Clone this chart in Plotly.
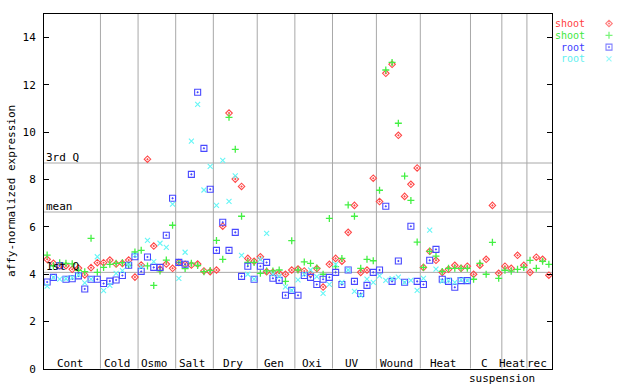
import numpy as np
import plotly.graph_objects as go

W, H = 640, 384

groups = ["Cont", "Cold", "Osmo", "Salt", "Dry", "Gen", "Oxi", "UV", "Wound",
          "Heat", "C", "Heat", "rec"]
group_sublabels = ["", "", "", "", "", "", "", "", "", "", "suspension", "", ""]

shoot_red = [
    [4.62, 4.45, 4.35, 4.35, 4.20, 4.25, 3.96, 4.27, 4.48],
    [4.48, 4.59, 4.42, 4.45, 4.59, 3.87],
    [4.38, 8.85, 5.18, 4.21, 4.42, 4.24],
    [4.49, 4.41, 4.38, 4.42, 4.13, 4.10],
    [4.17, 6.02, 10.80, 8.01, 7.70, 4.66, 4.54],
    [4.73, 4.10, 4.07, 4.03, 3.99, 4.17],
    [4.21, 4.13, 4.00, 4.23, 3.45, 4.41],
    [4.66, 4.54, 5.76, 6.90, 4.07, 4.17, 8.05],
    [7.06, 12.48, 12.86, 9.86, 7.28, 7.79, 8.48],
    [4.28, 4.96, 4.58, 4.07, 4.20, 4.37, 4.24, 4.33],
    [3.99, 4.37, 4.62, 6.90, 4.03],
    [4.33, 4.24, 4.79, 4.37],
    [4.07, 4.71, 4.62, 3.95],
]
shoot_green = [
    [4.80, 4.35, 4.48, 4.45, 4.43, 4.15, 4.10, 5.51, 4.07],
    [4.28, 4.41, 4.45, 4.48, 4.37, 4.93],
    [5.00, 4.34, 3.52, 4.13, 4.59, 6.06],
    [4.49, 4.23, 4.46, 4.36, 4.10, 4.15],
    [5.42, 4.62, 10.62, 9.27, 6.44, 4.49, 4.49],
    [4.03, 4.13, 4.13, 4.17, 3.69, 5.41],
    [4.17, 4.51, 4.45, 4.25, 3.99, 6.35],
    [4.31, 4.66, 6.92, 6.44, 4.24, 4.62, 4.56],
    [7.54, 12.62, 12.94, 10.37, 8.14, 7.11, 5.35],
    [4.28, 4.96, 4.76, 4.11, 4.24, 4.24, 4.24, 4.24],
    [3.78, 4.45, 3.99, 5.34, 3.82],
    [4.16, 4.12, 4.20, 4.28],
    [4.58, 4.24, 4.54, 4.41],
]
root_blue = [
    [3.66, 3.86, 4.35, 3.78, 3.80, 3.92, 3.37, 3.78, 3.78],
    [3.60, 3.70, 3.75, 3.94, 4.37, 4.73],
    [4.11, 4.72, 4.28, 4.28, 5.64, 7.20],
    [4.49, 4.41, 8.21, 11.68, 9.31, 7.58],
    [5.00, 6.19, 5.00, 5.76, 3.90, 4.33, 3.78],
    [4.33, 4.49, 3.82, 3.73, 3.10, 3.31],
    [3.10, 3.94, 3.86, 3.56, 3.78, 3.86],
    [4.07, 3.56, 4.17, 3.69, 3.18, 3.52, 4.07],
    [4.17, 6.86, 3.69, 4.55, 3.65, 6.02, 3.69],
    [3.56, 4.58, 5.04, 3.78, 3.69, 3.44, 3.72, 3.72],
    [], [], [],
]
root_cyan = [
    [3.49, 3.86, 3.78, 3.80, 3.85, 3.95, 3.63, 3.78, 4.73],
    [3.30, 3.52, 4.03, 4.14, 4.40, 4.80],
    [4.30, 5.42, 4.52, 5.30, 5.13, 6.95],
    [3.82, 4.92, 9.61, 11.17, 7.55, 8.55],
    [6.90, 8.80, 7.07, 8.15, 4.79, 3.99, 3.78],
    [4.62, 5.72, 4.00, 3.90, 3.46, 3.31],
    [3.75, 4.00, 4.17, 3.89, 3.18, 3.56],
    [4.41, 3.65, 4.17, 3.27, 3.10, 3.78, 3.65],
    [3.92, 3.73, 3.80, 3.87, 3.65, 3.73, 3.31],
    [3.82, 5.85, 4.21, 3.70, 3.72, 3.65, 3.75, 3.72],
    [], [], [],
]

ref_values = [8.69, 6.62, 4.07]
ref_labels = ["3rd Q", "mean", "1st Q"]

y_ticks = [0, 2, 4, 6, 8, 10, 12, 14]
y_range = [0, 15]
y_title = "affy-normalized expression"

series_names = ["shoot", "shoot", "root", "root"]
series_data = [shoot_red, shoot_green, root_blue, root_cyan]
series_colors = ["#ff4848", "#44f044", "#4848ff", "#66f6f6"]
series_text_colors = ["#ff4040", "#40e840", "#4040ff", "#60f0f0"]

FONT = "DejaVu Sans Mono"

# --- layout geometry (pixels) ---
PL, PR = 44, 552
PB, PT = 368.7, 13.65

sizes = [len(g) for g in shoot_red]
offsets = np.concatenate([[0], np.cumsum(sizes)[:-1]])
n_total = int(np.sum(sizes))


def group_x(series):
    xs, ys = [], []
    for off, vals in zip(offsets, series):
        xs.extend(list(off + np.arange(len(vals))))
        ys.extend(vals)
    return xs, ys


symbols = ["diamond-open-dot", "cross-thin-open", "square-open-dot", "x-thin-open"]
msizes = [5, 5, 6, 5]
mwidths = [1.1, 1.3, 1.1, 1.1]

fig = go.Figure()
for name, data, col, sym, ms, mw in zip(series_names, series_data, series_colors,
                                         symbols, msizes, mwidths):
    xs, ys = group_x(data)
    fig.add_trace(go.Scatter(
        x=xs, y=ys, mode="markers", name=name, showlegend=False,
        marker=dict(symbol=sym, size=ms, color=col, line=dict(color=col, width=mw)),
        xaxis="x", yaxis="y",
    ))

# custom legend (text left, symbol right) on a full-page pixel axis
leg_y = [23.5, 35.3, 47.1, 58.9]
fig.add_trace(go.Scatter(
    x=[609] * 4, y=leg_y, mode="markers", showlegend=False,
    marker=dict(symbol=symbols, size=msizes, color=series_colors,
                line=dict(color=series_colors, width=mwidths)),
    xaxis="x2", yaxis="y2", hoverinfo="skip",
))

annotations = []
for name, tc, ly in zip(series_names, series_text_colors, leg_y):
    annotations.append(dict(x=586, y=ly, xref="x2", yref="y2", text=name,
                            showarrow=False, xanchor="right", yanchor="middle",
                            borderpad=0,
                            font=dict(family=FONT, size=10, color=tc)))

shapes = []
# group separators
for b in np.cumsum(sizes)[:-1]:
    shapes.append(dict(type="line", xref="x", yref="y", x0=b - 0.5, x1=b - 0.5,
                       y0=y_range[0], y1=y_range[1], layer="below",
                       line=dict(color="#a8a8a8", width=1)))
# reference lines
for v, lab in zip(ref_values, ref_labels):
    shapes.append(dict(type="line", xref="x", yref="y", x0=-0.5, x1=n_total - 0.5,
                       y0=v, y1=v, layer="below",
                       line=dict(color="#a8a8a8", width=1)))
    annotations.append(dict(x=-0.5, y=v, xref="x", yref="y", text=lab,
                            showarrow=False, xanchor="left", yanchor="bottom",
                            yshift=-3, xshift=0,
                            font=dict(family=FONT, size=11, color="black")))

# group labels
for g, sub, off, n in zip(groups, group_sublabels, offsets, sizes):
    cx = off + (n - 1) / 2.0
    annotations.append(dict(x=cx, y=1 - 363.5 / H, xref="x", yref="paper", text=g,
                            showarrow=False, xanchor="center", yanchor="middle",
                            xshift=-2,
                            font=dict(family=FONT, size=11, color="black")))
    if sub:
        annotations.append(dict(x=off + n - 0.5, y=1 - 378.5 / H, xref="x", yref="paper",
                                text=sub, showarrow=False, xanchor="center",
                                yanchor="middle",
                                font=dict(family=FONT, size=11, color="black")))

# y-axis title
annotations.append(dict(x=12 / W, y=1 - 191 / H, xref="paper", yref="paper",
                        text=y_title, textangle=-90, showarrow=False,
                        xanchor="center", yanchor="middle",
                        font=dict(family=FONT, size=11, color="black")))

fig.update_layout(
    width=W, height=H,
    margin=dict(l=0, r=0, t=0, b=0, pad=0),
    paper_bgcolor="white", plot_bgcolor="rgba(0,0,0,0)",
    font=dict(family=FONT, size=11, color="black"),
    xaxis=dict(domain=[PL / W, PR / W], range=[-0.5, n_total - 0.5],
               showticklabels=False, ticks="", showgrid=False, zeroline=False,
               showline=True, linecolor="black", linewidth=1, mirror=True,
               automargin=False),
    yaxis=dict(domain=[1 - PB / H, 1 - PT / H], range=y_range,
               tickvals=y_ticks, ticks="inside", ticklen=5, tickcolor="black",
               showgrid=False, zeroline=False,
               showline=True, linecolor="black", linewidth=1, mirror="ticks",
               ticklabelstandoff=5, automargin=False,
               tickfont=dict(family=FONT, size=11, color="black")),
    xaxis2=dict(domain=[0, 1], range=[0, W], visible=False,
                anchor="y2", fixedrange=True),
    yaxis2=dict(domain=[0, 1], range=[H, 0], visible=False,
                anchor="x2", fixedrange=True),
    shapes=shapes,
    annotations=annotations,
    showlegend=False,
)

fig.write_html("out.html",
               config={"displayModeBar": False},
               post_script="document.body.style.margin='0px';"
                           "document.body.style.padding='0px';")
